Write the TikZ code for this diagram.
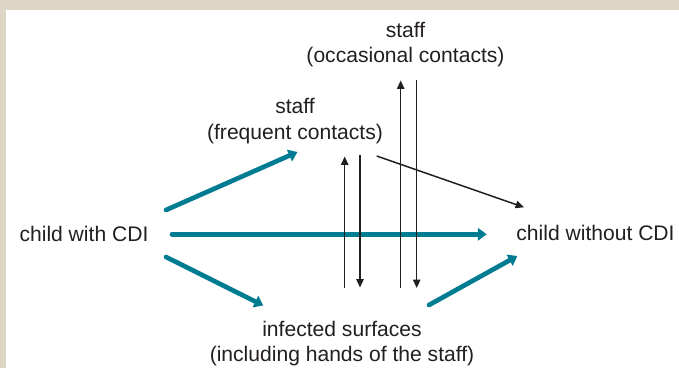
\documentclass[tikz,border=0pt]{standalone}
\usepackage{fontspec}
\setmainfont{Liberation Sans}
\usepackage{xcolor}
\usepackage{tikz}
\usetikzlibrary{positioning,arrows.meta,calc}

\definecolor{cdiTeal}{RGB}{0,124,146}
\definecolor{frameBeige}{RGB}{222,214,196}
\definecolor{labelGray}{RGB}{35,31,32}

\begin{document}
\begin{tikzpicture}[
    x=0.02cm, y=-0.02cm,
    every node/.style={inner sep=0pt, align=center, text=labelGray, font=\fontsize{12}{14.4}\selectfont},
    spread/.style={draw=cdiTeal, line width=2.66pt, line cap=round, -{Triangle[length=5pt,width=7pt]}},
    contact/.style={draw=labelGray, line width=0.85pt, -{Triangle[length=4.8pt,width=4.2pt]}}
]
% frame
\fill[frameBeige] (0,0) rectangle (679,368);
\fill[white] (6,10) rectangle (679,368);
\useasboundingbox (0,0) rectangle (679,368);

% labels
\node (occ) at (405.5,44.5) {staff\\(occasional contacts)};
\node (freq) at (295,121.2) {staff\\(frequent contacts)};
\node (surf) at (342,343.4) {infected surfaces\\(including hands of the staff)};
\node[anchor=base] (cdi) at (84,241.3) {child with CDI};
\node[anchor=base] (nocdi) at (595.5,240.7) {child without CDI};

% arrow ends
\coordinate (cdi up) at (166,210);
\coordinate (freq in) at (297.5,152);
\coordinate (cdi mid) at (172,234.3);
\coordinate (nocdi in) at (486.7,234.3);
\coordinate (cdi down) at (166,257);
\coordinate (surf in) at (263.3,305.5);
\coordinate (surf out) at (429,305);
\coordinate (nocdi low) at (517.3,256);
\coordinate (freq out) at (376.7,156);
\coordinate (nocdi top) at (524,207.3);
\coordinate (freq up a) at (344.7,288);
\coordinate (freq up b) at (344.7,156.5);
\coordinate (freq down a) at (360,155);
\coordinate (freq down b) at (360,287.5);
\coordinate (occ up a) at (400.7,288);
\coordinate (occ up b) at (400.7,80.5);
\coordinate (occ down a) at (416.7,80);
\coordinate (occ down b) at (416.7,288);

% spread of CDI
\draw[spread] (cdi up) -- (freq in);
\draw[spread] (cdi mid) -- (nocdi in);
\draw[spread] (cdi down) -- (surf in);
\draw[spread] (surf out) -- (nocdi low);

% staff contacts
\draw[contact] (freq out) -- (nocdi top);
\draw[contact] (freq up a) -- (freq up b);
\draw[contact] (freq down a) -- (freq down b);
\draw[contact] (occ up a) -- (occ up b);
\draw[contact] (occ down a) -- (occ down b);
\end{tikzpicture}
\end{document}
